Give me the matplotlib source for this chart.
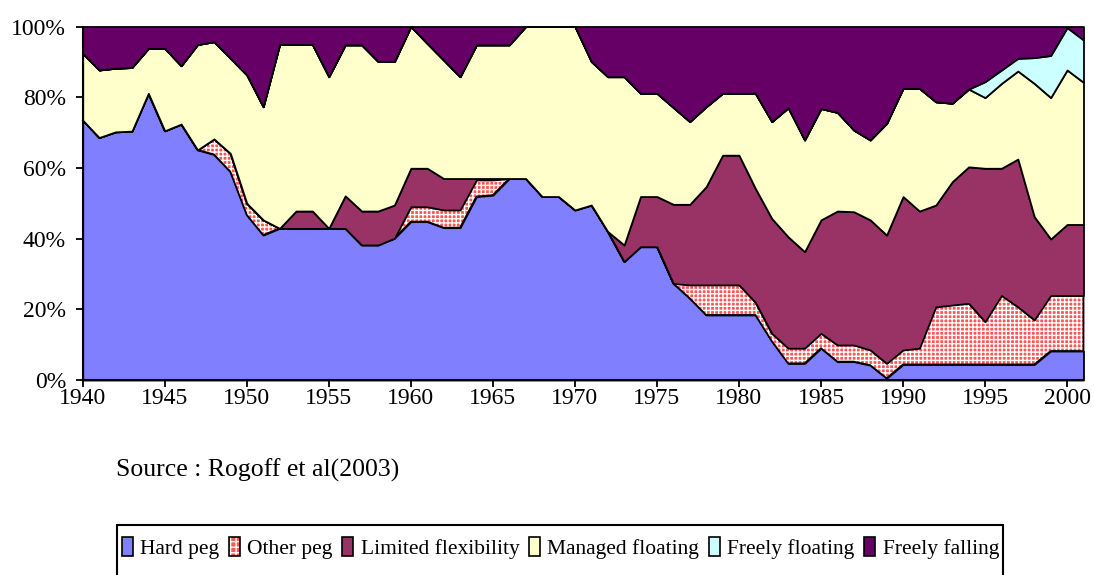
import matplotlib
matplotlib.use('Agg')
import matplotlib.pyplot as plt
from matplotlib.patches import Patch, Rectangle
from matplotlib.ticker import FuncFormatter, MultipleLocator
import numpy as np

plt.rcParams['font.family'] = ['Liberation Serif', 'DejaVu Serif']
plt.rcParams['hatch.linewidth'] = 1.0

# shares of regimes (%), one value per year 1940-2001
years = np.arange(1940, 2002)
hard_peg = [73.5, 68.6, 70.2, 70.4, 81.1, 70.5, 72.4, 65.1, 63.8, 58.9,
            46.7, 41.0, 42.9, 42.9, 42.9, 42.9, 42.9, 38.2, 38.2, 40.1,
            44.8, 44.8, 43.1, 43.1, 51.9, 52.3, 57.0, 57.0, 51.9, 51.9,
            48.1, 49.5, 42.0, 33.5, 37.7, 37.7, 27.3, 23.1, 18.4, 18.4,
            18.4, 18.4, 11.0, 4.7, 4.7, 9.0, 5.2, 5.2, 4.2, 0.5,
            4.4, 4.4, 4.4, 4.4, 4.4, 4.4, 4.4, 4.4, 4.4, 8.2,
            8.2, 8.2]
other_peg = [0, 0, 0, 0, 0, 0, 0, 0, 4.4, 5.2,
             3.3, 4.3, 0, 0, 0, 0, 0, 0, 0, 0,
             4.2, 4.2, 5.0, 5.0, 4.7, 4.3, 0, 0, 0, 0,
             0, 0, 0, 0, 0, 0, 0, 3.8, 8.5, 8.5,
             8.5, 3.6, 2.2, 4.3, 4.3, 4.2, 4.7, 4.7, 4.3, 4.2,
             4.1, 4.6, 16.3, 16.8, 17.3, 12.1, 19.5, 16.3, 12.6, 15.7,
             15.7, 15.7]
limited_flex = [0, 0, 0, 0, 0, 0, 0, 0, 0, 0,
                0, 0, 0, 4.9, 4.9, 0, 9.2, 9.6, 9.6, 9.4,
                10.9, 10.9, 8.9, 8.9, 0.4, 0.4, 0, 0, 0, 0,
                0, 0, 0, 4.7, 14.2, 14.2, 22.4, 22.8, 27.8, 36.7,
                36.7, 32.2, 32.5, 31.5, 27.3, 32.1, 37.9, 37.7, 36.8, 36.3,
                43.4, 38.8, 28.8, 34.9, 38.6, 43.4, 36.0, 41.8, 29.2, 16.0,
                20.1, 20.1]
managed_float = [18.9, 19.1, 18.0, 18.0, 12.7, 23.3, 16.5, 29.8, 27.5, 26.9,
                 36.3, 32.0, 52.0, 47.1, 47.1, 42.9, 42.7, 47.0, 42.3, 40.6,
                 40.1, 35.3, 33.5, 28.8, 37.8, 37.8, 37.8, 43.0, 48.1, 48.1,
                 51.9, 40.6, 43.8, 47.6, 29.2, 29.2, 27.4, 23.4, 22.6, 17.5,
                 17.5, 26.9, 27.4, 36.5, 31.6, 31.5, 27.9, 23.1, 22.6, 31.6,
                 30.6, 34.7, 29.2, 22.2, 22.0, 20.0, 24.0, 24.9, 37.7, 40.0,
                 43.7, 40.2]
freely_float = [0, 0, 0, 0, 0, 0, 0, 0, 0, 0,
                0, 0, 0, 0, 0, 0, 0, 0, 0, 0,
                0, 0, 0, 0, 0, 0, 0, 0, 0, 0,
                0, 0, 0, 0, 0, 0, 0, 0, 0, 0,
                0, 0, 0, 0, 0, 0, 0, 0, 0, 0,
                0, 0, 0, 0, 0, 4.5, 3.8, 3.6, 7.3, 11.9,
                12.0, 12.0]
freely_fall = [7.6, 12.3, 11.8, 11.6, 6.2, 6.2, 11.1, 5.1, 4.3, 9.0,
               13.7, 22.7, 5.1, 5.1, 5.1, 14.2, 5.2, 5.2, 9.9, 9.9,
               0, 4.8, 9.5, 14.2, 5.2, 5.2, 5.2, 0, 0, 0,
               0, 9.9, 14.2, 14.2, 18.9, 18.9, 22.9, 26.9, 22.7, 18.9,
               18.9, 18.9, 26.9, 23.0, 32.1, 23.2, 24.3, 29.3, 32.1, 27.4,
               17.5, 17.5, 21.3, 21.7, 17.7, 15.6, 12.3, 9.0, 8.8, 8.2,
               0.3, 3.8]

labels = ['Hard peg', 'Other peg', 'Limited flexibility', 'Managed floating',
          'Freely floating', 'Freely falling']
colors = ['#8080FF', '#FF5555', '#993366', '#FFFFCC', '#CCFFFF', '#660066']

fig = plt.figure(figsize=(10.94, 5.75), dpi=100)
ax = fig.add_axes([0.0756, 0.3391, 0.9148, 0.6148])

series = [hard_peg, other_peg, limited_flex, managed_float, freely_float, freely_fall]
tops = np.cumsum(np.array(series), axis=0)
bottom = np.zeros(len(years))
for i, top in enumerate(tops):
    if i == 1:
        # checkered red fill, then black outline
        ax.fill_between(years, bottom, top, facecolor=colors[i], edgecolor='white',
                        hatch='++++', linewidth=0)
        ax.fill_between(years, bottom, top, facecolor='none', edgecolor='black',
                        linewidth=1.3, clip_on=False)
    else:
        ax.fill_between(years, bottom, top, facecolor=colors[i], edgecolor='black',
                        linewidth=1.3, clip_on=False)
    bottom = top

ax.set_xlim(1940, 2001)
ax.set_ylim(0, 100)
ax.xaxis.set_major_locator(MultipleLocator(5))
ax.yaxis.set_major_locator(MultipleLocator(20))
ax.yaxis.set_major_formatter(FuncFormatter(lambda v, p: '%d%%' % v))
ax.tick_params(direction='out', length=5, width=1.3, labelsize=17, colors='black')
ax.tick_params(axis='y', pad=7)
ax.tick_params(axis='x', pad=1)
for s in ['top', 'right']:
    ax.spines[s].set_visible(False)
for s in ['left', 'bottom']:
    ax.spines[s].set_linewidth(1.5)
    ax.spines[s].set_zorder(5)

fig.text(0.106, 0.172, 'Source : Rogoff et al(2003)', fontsize=18.5, va='baseline')

# legend, boxed at the bottom (box runs past the lower edge)
handles = []
for i, lab in enumerate(labels):
    if i == 1:
        handles.append((Patch(facecolor=colors[i], edgecolor='white', hatch='+++', linewidth=0),
                        Patch(facecolor='none', edgecolor='black', linewidth=1.2)))
    else:
        handles.append(Patch(facecolor=colors[i], edgecolor='black', linewidth=1.2))
fig.legend(handles, labels, loc='center left', bbox_to_anchor=(0.1115, 0.047),
           ncol=6, frameon=False, fontsize=15.5, handlelength=0.5, handleheight=0.95,
           handletextpad=0.35, columnspacing=0.45, borderpad=0, borderaxespad=0)
fig.patches.append(Rectangle((0.107, -0.02), 0.81, 0.107, transform=fig.transFigure,
                             facecolor='none', edgecolor='black', linewidth=1.5))

plt.savefig('out.png', dpi=100)
